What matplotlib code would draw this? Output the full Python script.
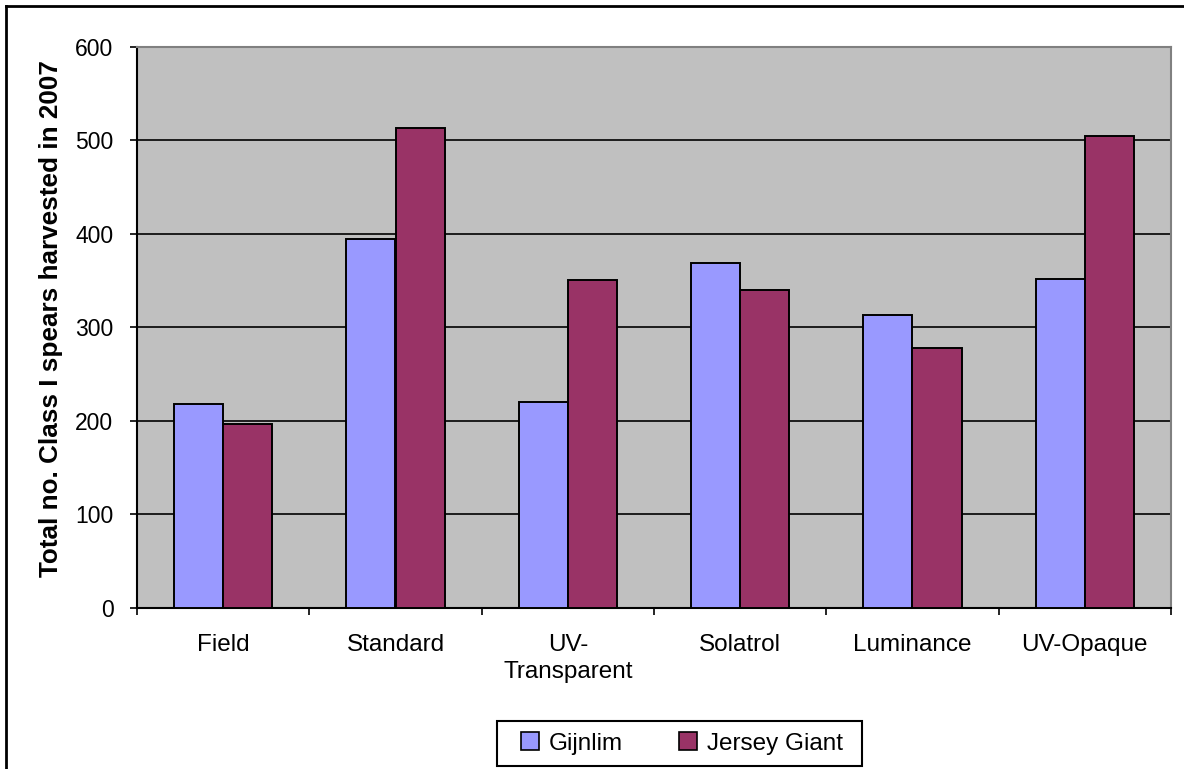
import matplotlib
matplotlib.use("Agg")
import matplotlib.pyplot as plt
import numpy as np
from matplotlib.patches import Patch, Rectangle
from matplotlib.lines import Line2D

# Data
categories = ["Field", "Standard", "UV-\nTransparent", "Solatrol", "Luminance", "UV-Opaque"]
gijnlim = [218, 394, 220, 369, 313, 352]
jersey_giant = [197, 513, 350, 340, 278, 504]
series_names = ["Gijnlim", "Jersey Giant"]
y_ticks = [0, 100, 200, 300, 400, 500, 600]
y_label = "Total no. Class I spears harvested in 2007"

plt.rcParams["font.family"] = ["Liberation Sans", "DejaVu Sans"]

W, H = 1184, 769
fig = plt.figure(figsize=(W / 100, H / 100), dpi=100)
ax = fig.add_axes([137 / W, 1 - 608 / H, 1034 / W, 561.5 / H])

col_a = "#9999FF"
col_b = "#993366"
ax.set_facecolor("#C0C0C0")

x = np.arange(len(categories))
bw = 0.286
ax.bar(x - bw / 2, gijnlim, bw, color=col_a, edgecolor="black", linewidth=1.4, zorder=3)
ax.bar(x + bw / 2, jersey_giant, bw, color=col_b, edgecolor="black", linewidth=1.4, zorder=3)

ax.set_xlim(-0.5, len(categories) - 0.5)
ax.set_ylim(0, 600)
ax.set_yticks(y_ticks)
ax.yaxis.grid(True, color="black", linewidth=1.2, zorder=1)
ax.set_axisbelow(True)

# category labels on major ticks, tick marks at category boundaries
ax.set_xticks(x)
ax.set_xticklabels(categories, fontsize=17.5, linespacing=1.3)
ax.set_xticks(np.arange(-0.5, len(categories)), minor=True)
ax.tick_params(axis="x", which="major", length=0, pad=19)
ax.tick_params(axis="x", which="minor", length=5, width=1.2, direction="out", color="black")
ax.tick_params(axis="y", length=5, width=1.2, direction="out", pad=12, labelsize=16.5)

for side in ("left", "bottom"):
    ax.spines[side].set_color("black")
    ax.spines[side].set_linewidth(1.5)
for side in ("top", "right"):
    ax.spines[side].set_color("#808080")
    ax.spines[side].set_linewidth(1.5)

ax.set_ylabel(y_label, fontsize=18.8, fontweight="bold")
ax.yaxis.set_label_coords(-0.072, 0.515)

# legend entries with a plain rectangular frame around them
handles = [Patch(facecolor=col_a, edgecolor="black", linewidth=1.2),
           Patch(facecolor=col_b, edgecolor="black", linewidth=1.2)]
leg = fig.legend(handles, series_names, loc="center", bbox_to_anchor=(682 / W, 1 - 743.5 / H),
                 ncol=2, frameon=False, fontsize=17.5, handlelength=0.75,
                 handleheight=0.75, handletextpad=0.4, columnspacing=2.3, borderpad=0.35,
                 borderaxespad=0)
fig.add_artist(Rectangle((497 / W, 1 - 766 / H), 365 / W, 45 / H, transform=fig.transFigure,
                         facecolor="none", edgecolor="black", linewidth=1.5))

# outer chart frame
fig.add_artist(Line2D([6 / W, 6 / W], [0, 1 - 6 / H], transform=fig.transFigure,
                      color="black", linewidth=2))
fig.add_artist(Line2D([6 / W, 1], [1 - 6 / H, 1 - 6 / H], transform=fig.transFigure,
                      color="black", linewidth=2))

fig.savefig("out.png", dpi=100)
